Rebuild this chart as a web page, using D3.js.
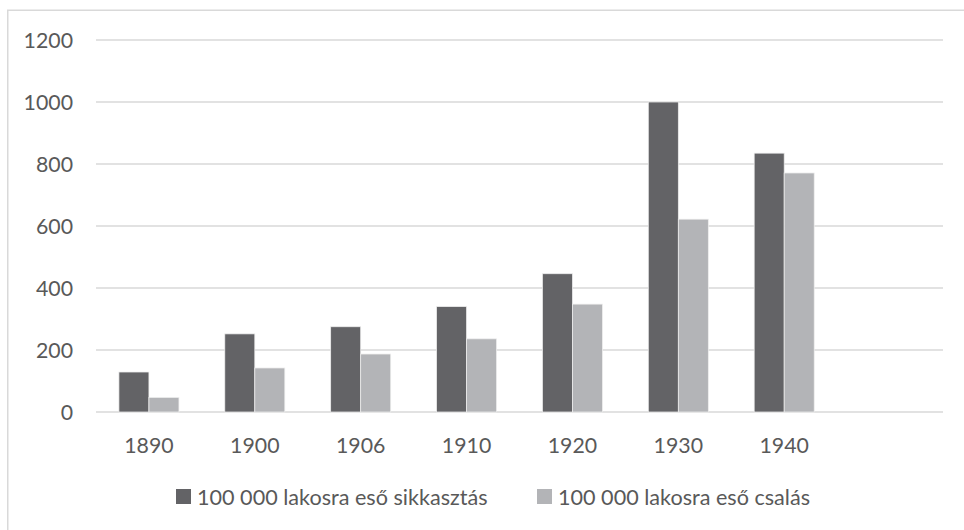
<!DOCTYPE html>
<html>
<head>
<meta charset="utf-8">
<script src="https://cdn.jsdelivr.net/npm/d3@7"></script>
<style>
  body { margin: 0; background: #fff; }
  svg { display: block; font-family: Lato, "Open Sans", sans-serif; }
</style>
</head>
<body>
<svg id="chart" width="964" height="530"></svg>
<script>
// Data
const categories = ["1890", "1900", "1906", "1910", "1920", "1930", "1940", ""];
const sikkasztas = [129, 252, 275, 340, 446, 1000, 835, null];
const csalas = [47, 142, 187, 236, 348, 622, 771, null];
const seriesNames = ["100 000 lakosra eső sikkasztás", "100 000 lakosra eső csalás"];
const seriesColors = ["#636366", "#b3b4b7"];
const yTicks = [0, 200, 400, 600, 800, 1000, 1200];

const width = 964;
const height = 530;
const plot = { left: 96, right: 943, top: 40, bottom: 412 };

const svg = d3.select("#chart");

// outer chart frame
svg.append("rect")
  .attr("x", 7.75)
  .attr("y", 10.25)
  .attr("width", width)
  .attr("height", height)
  .attr("fill", "none")
  .attr("stroke", "#d9d9d9")
  .attr("stroke-width", 1.5);

const x0 = d3.scaleBand()
  .domain(categories)
  .range([plot.left, plot.right])
  .paddingInner(0.433)
  .paddingOuter(0.2165);

const x1 = d3.scaleBand()
  .domain([0, 1])
  .range([0, x0.bandwidth()]);

const y = d3.scaleLinear()
  .domain([0, 1200])
  .range([plot.bottom, plot.top]);

// gridlines
svg.append("g")
  .selectAll("line")
  .data(yTicks)
  .join("line")
  .attr("x1", plot.left)
  .attr("x2", plot.right)
  .attr("y1", (d) => y(d))
  .attr("y2", (d) => y(d))
  .attr("stroke", "#d9d9d9")
  .attr("stroke-width", 1.5);

// y labels
svg.append("g")
  .selectAll("text")
  .data(yTicks)
  .join("text")
  .attr("x", 73)
  .attr("y", (d) => y(d))
  .attr("dy", "0.36em")
  .attr("text-anchor", "end")
  .attr("fill", "#595959")
  .style("font-size", "21.3px")
  .text((d) => d);

// bars
const rows = categories.map((c, i) => ({ cat: c, vals: [sikkasztas[i], csalas[i]] }));

const groups = svg.append("g")
  .selectAll("g")
  .data(rows)
  .join("g")
  .attr("transform", (d) => `translate(${x0(d.cat)},0)`);

groups.selectAll("rect")
  .data((d) => d.vals.map((v, k) => ({ k, v })).filter((e) => e.v != null))
  .join("rect")
  .attr("x", (d) => x1(d.k))
  .attr("width", x1.bandwidth())
  .attr("y", (d) => y(d.v))
  .attr("height", (d) => y(0) - y(d.v))
  .attr("fill", (d) => seriesColors[d.k])
  .attr("stroke", "#eeeeee")
  .attr("stroke-width", 0.75);

// x labels
svg.append("g")
  .selectAll("text")
  .data(categories)
  .join("text")
  .attr("x", (d) => x0(d) + x0.bandwidth() / 2)
  .attr("y", 445)
  .attr("dy", "0.36em")
  .attr("text-anchor", "middle")
  .attr("fill", "#595959")
  .style("font-size", "21.3px")
  .text((d) => d);

// legend
const legendX = [176, 537];
const legend = svg.append("g")
  .selectAll("g")
  .data(seriesNames)
  .join("g")
  .attr("transform", (d, i) => `translate(${legendX[i]},489)`);

legend.append("rect")
  .attr("width", 15)
  .attr("height", 15)
  .attr("fill", (d, i) => seriesColors[i]);

legend.append("text")
  .attr("x", 21)
  .attr("y", 8)
  .attr("dy", "0.36em")
  .attr("fill", "#595959")
  .style("font-size", "21.6px")
  .text((d) => d);
</script>
</body>
</html>
